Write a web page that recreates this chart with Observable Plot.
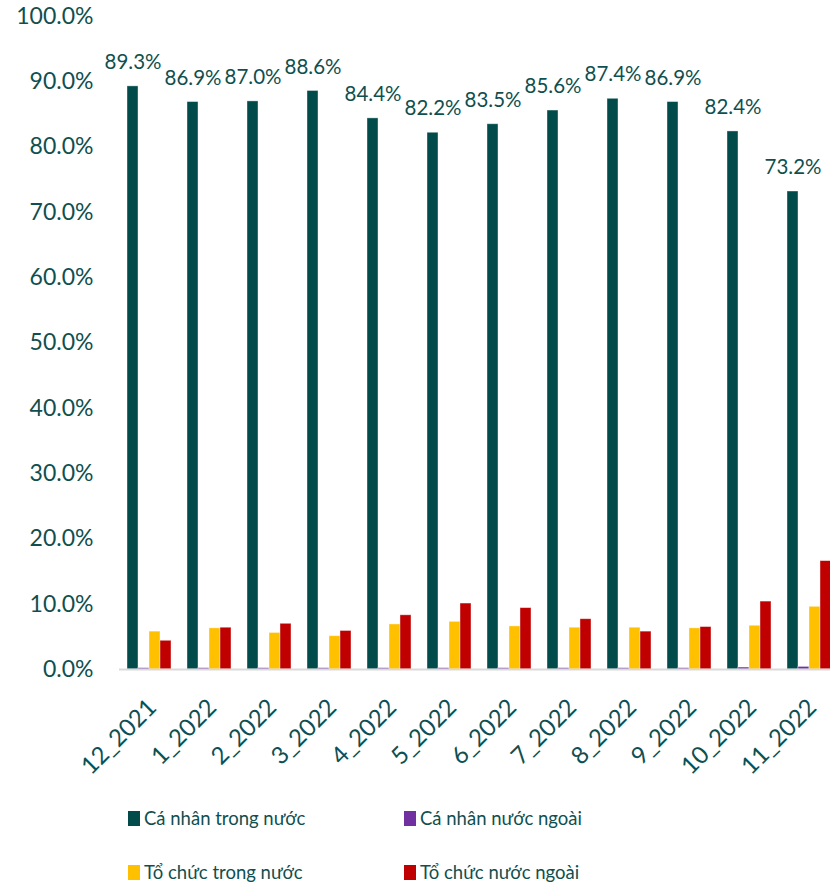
<!DOCTYPE html>
<html><head><meta charset="utf-8">
<script src="https://cdn.jsdelivr.net/npm/d3@7"></script>
<script src="https://cdn.jsdelivr.net/npm/@observablehq/plot@0.6"></script>
<style>
body{margin:0;background:#fff;font-family:Lato,sans-serif;}
#wrap{width:830px;height:885px;overflow:hidden;position:relative;background:#fff;}
#chart{position:absolute;left:0;top:0;}
#chart svg{max-width:none !important;}
.lg{position:absolute;display:flex;align-items:center;font-family:Lato,sans-serif;font-size:18.5px;color:#0f4f4f;white-space:nowrap;}
.lg .sw{width:12px;height:15px;margin-right:4px;display:inline-block;}
</style></head><body>
<div id="wrap"><div id="chart"></div><div id="legend"></div></div>
<script>
const categories = ["12_2021","1_2022","2_2022","3_2022","4_2022","5_2022","6_2022","7_2022","8_2022","9_2022","10_2022","11_2022"];
const seriesNames = ["Cá nhân trong nước","Cá nhân nước ngoài","Tổ chức trong nước","Tổ chức nước ngoài"];
const caNhanTrongNuoc = [89.3,86.9,87.0,88.6,84.4,82.2,83.5,85.6,87.4,86.9,82.4,73.2];
const caNhanNuocNgoai = [0.2,0.2,0.2,0.2,0.2,0.2,0.2,0.2,0.2,0.2,0.3,0.4];
const toChucTrongNuoc = [5.8,6.3,5.6,5.1,6.9,7.3,6.6,6.4,6.4,6.3,6.7,9.6];
const toChucNuocNgoai = [4.4,6.4,7.0,5.9,8.3,10.1,9.4,7.7,5.8,6.5,10.4,16.6];
const colors = ["#024b4b","#7030a0","#ffc000","#c00000"];
const yTicks = [0,10,20,30,40,50,60,70,80,90,100];
const textColor = "#0f4f4f";

const seriesValues = [caNhanTrongNuoc, caNhanNuocNgoai, toChucTrongNuoc, toChucNuocNgoai];
const rows = [];
categories.forEach((c,i)=>seriesNames.forEach((s,j)=>rows.push({period:c, series:s, value:seriesValues[j][i]})));
const fmt = d => d.toFixed(1) + "%";

const chart = Plot.plot({
  width: 840, height: 795,
  marginLeft: 119, marginRight: 1, marginTop: 16, marginBottom: 126,
  facet: {marginTop: 0, marginBottom: 0, marginLeft: 0, marginRight: 0},
  style: {fontFamily: "Lato, sans-serif", color: textColor, background: "white", maxWidth: "none"},
  fx: {domain: categories, padding: 0, label: null},
  x: {domain: seriesNames, paddingInner: 0, paddingOuter: 0.727, axis: null},
  y: {domain: [0, 100], label: null},
  color: {domain: seriesNames, range: colors},
  marks: [
    Plot.axisY({ticks: yTicks, tickSize: 0, tickPadding: 26, fontSize: 23, tickFormat: fmt, label: null}),
    Plot.axisFx({anchor: "bottom", tickRotate: -45, tickSize: 0, tickPadding: 34, dx: 3, fontSize: 24, label: null}),
    Plot.barY(rows, {fx: "period", x: "series", y: "value", fill: "series", stroke: "white", strokeOpacity: 0.5, strokeWidth: 0.8}),
    Plot.ruleY([0], {stroke: "#d9d9d9", strokeWidth: 2}),
    Plot.text(rows.filter(d => d.series === seriesNames[0]), {fx: "period", x: "series", y: "value", text: d => fmt(d.value), dy: -24, fontSize: 20.5, fill: textColor})
  ]
});
document.getElementById("chart").appendChild(chart);

const legendPos = [[128,818],[404,818],[128,872],[404,872]];
const lg = document.getElementById("legend");
seriesNames.forEach((s,j)=>{
  const d = document.createElement("div");
  d.className = "lg";
  d.style.left = legendPos[j][0] + "px";
  d.style.top = (legendPos[j][1] - 13) + "px";
  d.style.height = "26px";
  const sw = document.createElement("span");
  sw.className = "sw"; sw.style.background = colors[j];
  d.appendChild(sw);
  d.appendChild(document.createTextNode(s));
  lg.appendChild(d);
});
</script>
</body></html>
